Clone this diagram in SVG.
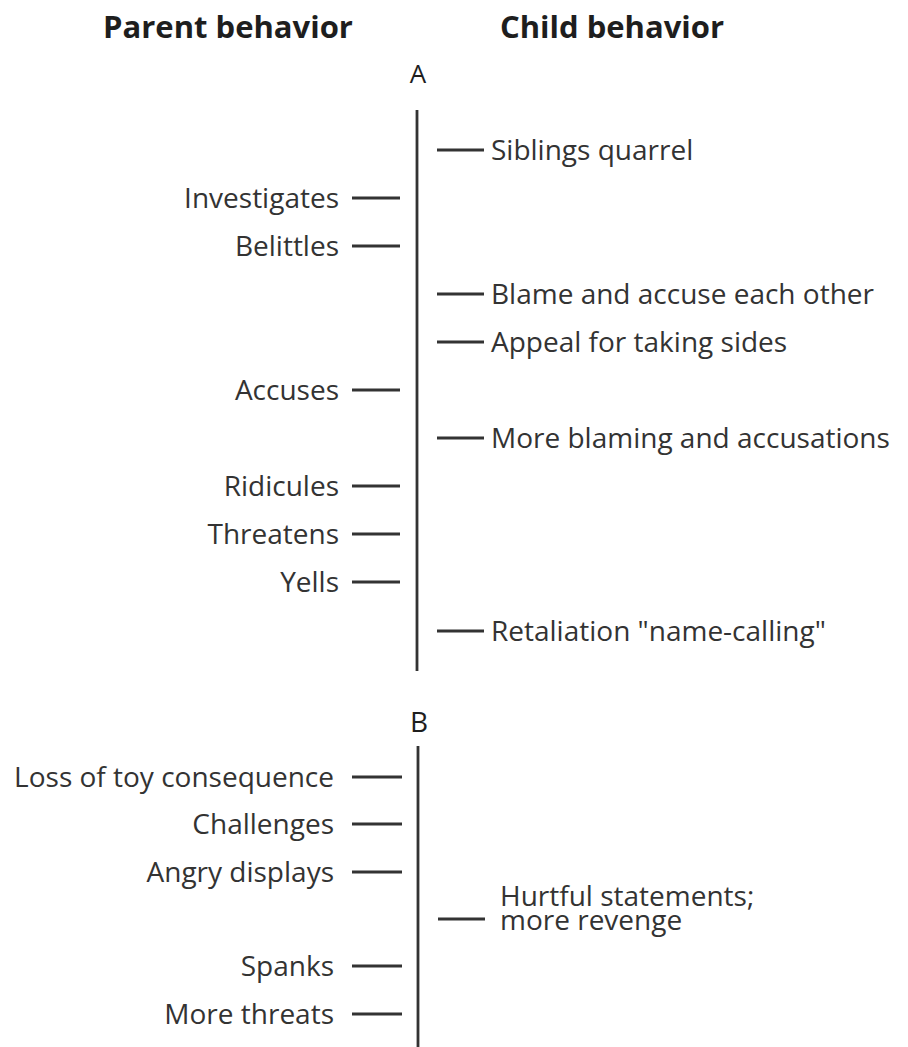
<svg xmlns="http://www.w3.org/2000/svg" width="908" height="1047" viewBox="0 0 908 1047">
  <style>
    .head { font-family: "Open Sans", "Liberation Sans", sans-serif; font-size: 31px; font-weight: bold; fill: #1e1e1e; text-anchor: middle; }
    .sect { font-family: "Open Sans", "Liberation Sans", sans-serif; fill: #1e1e1e; text-anchor: middle; }
    .lbl { font-family: "Open Sans", "Liberation Sans", sans-serif; font-size: 28px; fill: #333; }
    .par { text-anchor: end; }
    .axis { stroke: #333; stroke-width: 2.8; fill: none; }
    .tick { stroke: #333; stroke-width: 2.8; fill: none; }
  </style>
  <rect width="908" height="1047" fill="#ffffff"/>

  <!-- column headings -->
  <g id="headings">
    <text class="head" x="228" y="38">Parent behavior</text>
    <text class="head" x="612" y="38">Child behavior</text>
  </g>

  <!-- timeline axes and ticks -->
  <g id="connectors">
    <line class="axis" x1="417" y1="110" x2="417" y2="671"/>
    <line class="axis" x1="418" y1="746" x2="418" y2="1047"/>
    <!-- sequence A: child ticks -->
    <line class="tick" x1="437" y1="150" x2="484" y2="150"/>
    <line class="tick" x1="437" y1="294" x2="484" y2="294"/>
    <line class="tick" x1="437" y1="342" x2="484" y2="342"/>
    <line class="tick" x1="437" y1="438" x2="484" y2="438"/>
    <line class="tick" x1="437" y1="631" x2="484" y2="631"/>
    <!-- sequence A: parent ticks -->
    <line class="tick" x1="352" y1="198" x2="400" y2="198"/>
    <line class="tick" x1="352" y1="246" x2="400" y2="246"/>
    <line class="tick" x1="352" y1="390" x2="400" y2="390"/>
    <line class="tick" x1="352" y1="486" x2="400" y2="486"/>
    <line class="tick" x1="352" y1="534" x2="400" y2="534"/>
    <line class="tick" x1="352" y1="582" x2="400" y2="582"/>
    <!-- sequence B -->
    <line class="tick" x1="352" y1="777" x2="402" y2="777"/>
    <line class="tick" x1="352" y1="824" x2="402" y2="824"/>
    <line class="tick" x1="352" y1="872" x2="402" y2="872"/>
    <line class="tick" x1="438" y1="919" x2="485" y2="919"/>
    <line class="tick" x1="352" y1="966" x2="402" y2="966"/>
    <line class="tick" x1="352" y1="1014" x2="402" y2="1014"/>
  </g>

  <!-- sequence A -->
  <g id="section-a">
    <text class="sect" x="418" y="83" font-size="26">A</text>
  </g>
  <g id="a-siblings-quarrel"><text class="lbl" x="491" y="160">Siblings quarrel</text></g>
  <g id="a-investigates"><text class="lbl par" x="339" y="208">Investigates</text></g>
  <g id="a-belittles"><text class="lbl par" x="339" y="256">Belittles</text></g>
  <g id="a-blame"><text class="lbl" x="491" y="304">Blame and accuse each other</text></g>
  <g id="a-appeal"><text class="lbl" x="491" y="352">Appeal for taking sides</text></g>
  <g id="a-accuses"><text class="lbl par" x="339" y="400">Accuses</text></g>
  <g id="a-more-blaming"><text class="lbl" x="491" y="448">More blaming and accusations</text></g>
  <g id="a-ridicules"><text class="lbl par" x="339" y="496">Ridicules</text></g>
  <g id="a-threatens"><text class="lbl par" x="339" y="544">Threatens</text></g>
  <g id="a-yells"><text class="lbl par" x="339" y="592">Yells</text></g>
  <g id="a-retaliation"><text class="lbl" x="491" y="641">Retaliation "name-calling"</text></g>

  <!-- sequence B -->
  <g id="section-b">
    <text class="sect" x="419" y="732" font-size="28">B</text>
  </g>
  <g id="b-loss-of-toy"><text class="lbl par" x="334" y="787">Loss of toy consequence</text></g>
  <g id="b-challenges"><text class="lbl par" x="334" y="834">Challenges</text></g>
  <g id="b-angry-displays"><text class="lbl par" x="334" y="882">Angry displays</text></g>
  <g id="b-hurtful">
    <text class="lbl" x="500" y="906">Hurtful statements;</text>
    <text class="lbl" x="500" y="930">more revenge</text>
  </g>
  <g id="b-spanks"><text class="lbl par" x="334" y="976">Spanks</text></g>
  <g id="b-more-threats"><text class="lbl par" x="334" y="1024">More threats</text></g>
</svg>
